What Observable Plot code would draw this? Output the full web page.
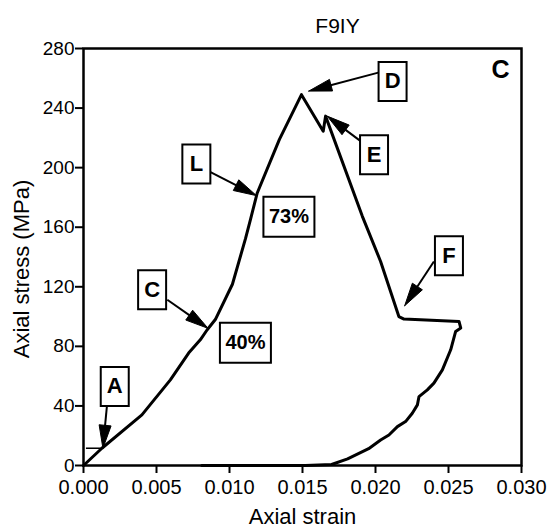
<!DOCTYPE html>
<html><head><meta charset="utf-8">
<script src="https://cdn.jsdelivr.net/npm/d3@7"></script>
<script src="https://cdn.jsdelivr.net/npm/@observablehq/plot@0.6"></script>
<style>body{margin:0;background:#fff}svg{display:block}</style>
</head><body><div id="chart"></div>
<script>
// Loading branch (axial strain, axial stress MPa)
const loadStrain = [0, 0.00126, 0.0040, 0.00595, 0.0072, 0.0080, 0.00846, 0.00903, 0.0102, 0.0111, 0.01143, 0.0119, 0.01342, 0.01493];
const loadStress = [0, 11.6, 34, 57.5, 75.5, 84.4, 91, 98, 121.7, 152.5, 165, 183, 219, 249];
// Post-peak and unloading branch
const unloadStrain = [0.01642, 0.01658, 0.0191, 0.02035, 0.0216, 0.02195, 0.02572, 0.02584, 0.02549, 0.02515, 0.02458, 0.0240, 0.02355, 0.02298, 0.02287, 0.02252, 0.02206, 0.0215, 0.02092, 0.02035, 0.01953, 0.01809, 0.01699, 0.0152, 0.0081];
const unloadStress = [224.5, 234.6, 167.3, 137, 100, 98.3, 96.7, 92.3, 90, 77.7, 64.2, 55.3, 50.8, 46.3, 40.7, 35.1, 29.5, 26.1, 20.5, 17.1, 11.3, 4.4, 0.7, 0, 0];
// Marker at point A
const markA = {stress: 11.6, strain1: 0.0002, strain2: 0.00126};
// Annotation letters with arrows
const arrowLabels = ["D", "E", "L", "C", "F", "A"];
const boxStrain = [0.02117, 0.0199, 0.00773, 0.0047, 0.02503, 0.00214];
const boxStress = [257.9, 208.6, 202.4, 118, 140.9, 53.1];
const arrowFromStrain = [0.02019, 0.01898, 0.0087, 0.00574, 0.0240, 0.0016];
const arrowFromStress = [263.8, 217.8, 197, 111.3, 137, 39.5];
const arrowToStrain = [0.01543, 0.01669, 0.01185, 0.00853, 0.0220, 0.00133];
const arrowToStress = [251.4, 234.6, 181.2, 92.1, 107.3, 11.6];
// Percentage labels
const pctLabels = ["73%", "40%"];
const pctStrain = [0.01407, 0.01109];
const pctStress = [167.1, 82.4];
// Ticks
const xTicks = [0, 0.005, 0.010, 0.015, 0.020, 0.025, 0.030];
const yTicks = [0, 40, 80, 120, 160, 200, 240, 280];

const W = 552, H = 527, mL = 83, mR = 31, mT = 48, mB = 62;
const xDom = [0, 0.03], yDom = [0, 280];
const kx = (W - mL - mR) / (xDom[1] - xDom[0]);
const ky = (H - mT - mB) / (yDom[1] - yDom[0]);

const curve = loadStrain.map((s, i) => ({strain: s, stress: loadStress[i]}))
  .concat(unloadStrain.map((s, i) => ({strain: s, stress: unloadStress[i]})));
const arrows = arrowLabels.map((l, i) => ({label: l, x1: arrowFromStrain[i], y1: arrowFromStress[i], x2: arrowToStrain[i], y2: arrowToStress[i]}));
const boxes = arrowLabels.map((l, i) => ({label: l, x: boxStrain[i], y: boxStress[i]}));
const pcts = pctLabels.map((l, i) => ({label: l, x: pctStrain[i], y: pctStress[i]}));

// arrowheads: filled triangles built from each arrow's direction (screen space)
const headLen = 23, headHalf = 6;
const heads = [];
arrows.forEach((a, i) => {
  const dx = (a.x2 - a.x1) * kx, dy = -(a.y2 - a.y1) * ky;
  const len = Math.hypot(dx, dy), ux = dx / len, uy = dy / len;
  const nx = -uy, ny = ux;
  const pts = [[0, 0], [-ux * headLen + nx * headHalf, -uy * headLen + ny * headHalf], [-ux * headLen - nx * headHalf, -uy * headLen - ny * headHalf], [0, 0]];
  pts.forEach(([px, py]) => heads.push({id: i, x: a.x2 + px / kx, y: a.y2 - py / ky}));
});
const shafts = arrows.map(a => {
  const dx = (a.x2 - a.x1) * kx, dy = -(a.y2 - a.y1) * ky;
  const len = Math.hypot(dx, dy), f = (len - headLen * 0.6) / len;
  return {x1: a.x1, y1: a.y1, x2: a.x1 + (a.x2 - a.x1) * f, y2: a.y1 + (a.y2 - a.y1) * f};
});

const rectSym = (w, h) => ({draw(ctx) { ctx.rect(-w / 2, -h / 2, w, h); }});
const font = "'Liberation Sans', Arial, Helvetica, sans-serif";

const plot = Plot.plot({
  width: W, height: H,
  marginLeft: mL, marginRight: mR, marginTop: mT, marginBottom: mB,
  style: {fontFamily: font, fontSize: "19px", color: "black", background: "white"},
  x: {domain: xDom, label: null},
  y: {domain: yDom, label: null},
  marks: [
    Plot.axisX({ticks: xTicks, tickFormat: d => d.toFixed(3), tickSize: 8, tickPadding: 6, strokeWidth: 2, fontSize: 20, label: null}),
    Plot.axisY({ticks: yTicks, tickFormat: d => String(d), tickSize: 8, tickPadding: 1, strokeWidth: 2, label: null}),
    Plot.frame({strokeWidth: 2.5}),
    Plot.ruleY([markA], {y: "stress", x1: "strain1", x2: "strain2", strokeWidth: 1.5}),
    Plot.line(curve, {x: "strain", y: "stress", strokeWidth: 3, strokeLinejoin: "round", strokeLinecap: "round"}),
    Plot.link(shafts, {x1: "x1", y1: "y1", x2: "x2", y2: "y2", strokeWidth: 2}),
    Plot.line(heads, {x: "x", y: "y", z: "id", fill: "black", stroke: "black", strokeWidth: 1, strokeLinejoin: "round"}),
    Plot.dot(boxes, {x: "x", y: "y", r: 5, symbol: rectSym(28, 39), fill: "white", stroke: "black", strokeWidth: 2}),
    Plot.text(boxes, {x: "x", y: "y", text: "label", fontSize: 22, fontWeight: "bold"}),
    Plot.dot(pcts, {x: "x", y: "y", r: 5, symbol: rectSym(51, 40), fill: "white", stroke: "black", strokeWidth: 2}),
    Plot.text(pcts, {x: "x", y: "y", text: "label", fontSize: 20, fontWeight: "bold"}),
    Plot.text(["F9IY"], {frameAnchor: "top", dx: 35, dy: -16, lineAnchor: "bottom", fontSize: 21}),
    Plot.text(["C"], {frameAnchor: "top-right", dx: -21, dy: 29, lineAnchor: "bottom", textAnchor: "middle", fontSize: 25, fontWeight: "bold"}),
    Plot.text(["Axial strain"], {frameAnchor: "bottom", dy: 58, lineAnchor: "bottom", textAnchor: "middle", fontSize: 22}),
    Plot.text(["Axial stress (MPa)"], {frameAnchor: "left", dx: -55, dy: 12, rotate: -90, lineAnchor: "bottom", textAnchor: "middle", fontSize: 22})
  ]
});
document.getElementById("chart").appendChild(plot);
</script>
</body></html>
